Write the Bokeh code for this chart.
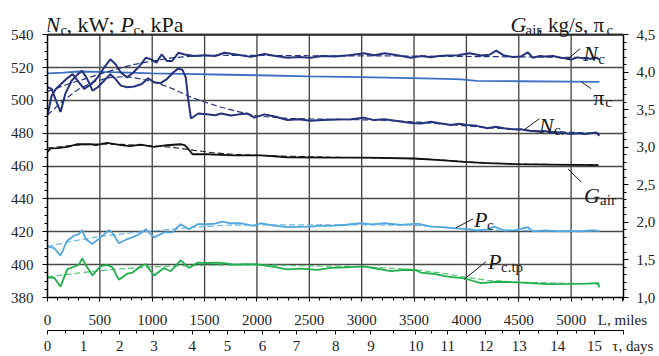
from bokeh.plotting import figure
from bokeh.models import Range1d, LinearAxis, FixedTicker, Label, CustomJSTickFormatter, Span
from bokeh.embed import file_html
from bokeh.resources import INLINE

# ---------------- data (L in miles) ----------------
nc1_L = [0, 40, 80, 130, 180, 240, 300, 350, 420, 480, 540, 600, 650, 700, 760, 820, 880, 940, 990,
         1040, 1090, 1140, 1190, 1250, 1310, 1400, 1500, 1600, 1690, 1800, 1940, 2070, 2180, 2290,
         2400, 2510, 2620, 2740, 2880, 3020, 3120, 3220, 3340, 3470, 3570, 3660, 3740, 3820, 3920,
         4030, 4140, 4220, 4285, 4360, 4440, 4520, 4585, 4635, 4700, 4750, 4830, 4900, 4960, 5000,
         5060, 5130, 5190, 5240, 5270]
nc1_v = [491, 503, 507, 510, 513, 516, 511, 507, 510, 514, 520, 525, 522, 517, 514, 517, 521, 526, 525,
         523, 528, 524, 524, 529, 528, 527, 527.5, 527, 529, 528, 526.5, 528.3, 527, 526,
         526.5, 526, 527, 526.7, 527.5, 528.7, 527.5, 528.7, 527.5, 526, 527, 526.3, 527, 527.3, 527.5,
         528.7, 527.3, 527.8, 530.3, 527.3, 526.5, 526.7, 529.3, 526, 527, 526.7, 527, 526, 525.5, 524.8,
         526.2, 525.5, 525.3, 526, 525]
nc1_trend_L = [0, 200, 400, 600, 800, 1000, 1200, 1400, 1650, 2500, 3500, 4500, 5270]
nc1_trend_v = [505.5, 510, 514, 518, 521.5, 524, 526, 527, 527.5, 527.2, 527, 526.5, 526]

nc2_L = [0, 40, 80, 125, 170, 230, 290, 330, 380, 430, 480, 540, 600, 650, 700, 760, 830, 900, 960,
         1020, 1080, 1140, 1200, 1250, 1290, 1320, 1345, 1370, 1440, 1520, 1600, 1660, 1750, 1830,
         1910, 1975, 2070, 2180, 2290, 2400, 2510, 2630, 2770, 2900, 3020, 3120, 3215, 3340, 3470,
         3570, 3660, 3760, 3850, 3930, 4010, 4100, 4200, 4280, 4360, 4440, 4520, 4600, 4680, 4750,
         4810, 4900, 5000, 5060, 5130, 5190, 5240, 5270]
nc2_v = [508, 507, 500, 493, 504, 512, 516, 518, 513, 506, 508, 512, 516, 513, 509, 508, 508.5, 510, 513.5,
         511, 510.5, 513, 517, 519.5, 518.5, 514, 500, 489, 492, 491.5, 491, 492, 490.8, 491.5,
         492, 489.5, 491.5, 490, 488, 488.5, 487.6, 488, 488.4, 488.5, 489.5, 488, 488.5, 487.5, 486.2,
         486, 487, 486, 485, 485.8, 485, 484.5, 483, 484, 483, 482.5, 482.4, 481.5, 481, 481.3,
         480.4, 480.5, 479.6, 480, 479.6, 480, 480.4, 478.5]
nc2_trend_L = [0, 150, 300, 450, 600, 750, 900, 1050, 1200, 1350, 1500, 1650, 1800, 2000, 2300, 2700,
               3200, 3600, 4000, 4400, 4800, 5270]
nc2_trend_v = [491, 500, 507, 511.5, 514, 514.5, 513, 510.5, 507, 502.5, 499, 496, 493.5, 490.5, 489,
               488.5, 488, 486.5, 484.5, 482.5, 481, 480]

pi_L = [0, 150, 300, 500, 700, 1000, 1300, 1600, 2000, 2500, 3000, 3470, 3800, 3950, 4100, 4500, 5000, 5270]
pi_v = [3.986, 3.995, 4.01, 4.005, 3.998, 3.985, 3.978, 3.97, 3.96, 3.944, 3.935, 3.922, 3.913, 3.905,
        3.885, 3.88, 3.875, 3.872]

g_L = [0, 30, 100, 190, 280, 410, 460, 570, 700, 790, 890, 1015, 1140, 1270, 1310, 1350, 1385, 1520,
       1780, 2040, 2290, 2700, 3020, 3500, 3750, 3980, 4200, 4460, 4800, 5260]
g_v = [2.94, 2.985, 2.99, 3.006, 3.041, 3.043, 3.028, 3.058, 3.03, 3.015, 3.037, 3.006, 3.028, 3.041,
       3.03, 2.97, 2.908, 2.908, 2.894, 2.894, 2.868, 2.862, 2.864, 2.851, 2.83, 2.807, 2.79, 2.776,
       2.77, 2.763]
g_trend_L = [0, 200, 450, 700, 1000, 1200, 1400, 1600, 1800, 2200, 2700, 3200, 3600, 3900, 4100, 4500, 5260]
g_trend_v = [2.99, 3.02, 3.045, 3.04, 3.02, 3.0, 2.96, 2.925, 2.905, 2.885, 2.868, 2.858, 2.845, 2.818,
             2.795, 2.777, 2.765]

pc_L = [0, 64, 124, 188, 252, 300, 332, 364, 428, 507, 586, 618, 682, 762, 810, 889, 937, 1017, 1112,
        1192, 1272, 1351, 1431, 1526, 1600, 1670, 1750, 1845, 1973, 2036, 2160, 2291, 2400, 2514, 2610,
        2705, 2850, 2992, 3100, 3215, 3375, 3534, 3662, 3760, 3853, 3980, 4108, 4200, 4267, 4362, 4470,
        4586, 4634, 4750, 4904, 5000, 5096, 5170, 5239, 5270]
pc_v = [411.1, 410.1, 405.5, 414.6, 417.6, 418.6, 421.0, 415.6, 412.6, 416.6, 421.0, 419.6, 413.0, 415.6,
        416.6, 419.0, 421.6, 416.6, 419.6, 419.6, 424.6, 421.6, 424.6, 424.6, 425.0, 426.2, 425.2, 425.2,
        423.6, 425.2, 423.8, 422.8, 423.0, 423.2, 423.8, 423.6, 424.3, 425.2, 424.5, 425.2, 424.2, 425.0,
        423.2, 422.8, 422.2, 421.8, 420.8, 421.5, 423.2, 420.8, 421.0, 422.8, 420.2, 420.8, 420.2, 420.6,
        420.2, 420.8, 420.8, 420.2]
pc_trend_L = [0, 250, 500, 750, 1000, 1250, 1500, 1700, 2000, 3000, 3500, 3800, 4100, 4500, 5270]
pc_trend_v = [411, 414.5, 417.2, 419, 420.5, 422, 423.2, 424, 424.2, 424.2, 424, 422.8, 421.2, 420.8, 420.5]

pt_L = [0, 64, 124, 188, 252, 300, 332, 364, 428, 507, 571, 618, 682, 762, 810, 889, 937, 1017, 1112,
        1176, 1272, 1351, 1431, 1526, 1622, 1700, 1781, 1900, 2005, 2150, 2291, 2418, 2578, 2705, 2850,
        3024, 3150, 3279, 3420, 3518, 3566, 3700, 3821, 3980, 4060, 4140, 4300, 4490, 4650, 4777, 5000,
        5150, 5255, 5270]
pt_v = [392.3, 392.0, 386.6, 397.1, 398.7, 400.0, 403.8, 400.0, 393.5, 399.1, 399.8, 398.5, 390.8, 394.5,
        395.1, 399.0, 400.4, 393.4, 398.0, 396.0, 402.6, 398.0, 401.2, 401.0, 401.2, 400.8, 400.0, 400.3,
        400.2, 398.8, 397.1, 397.6, 396.8, 398.0, 398.4, 399.0, 397.5, 396.1, 396.9, 396.6, 395.1, 394.3,
        392.7, 391.6, 390.2, 388.8, 389.6, 389.2, 388.6, 388.2, 388.3, 388.5, 388.8, 386.2]
pt_trend_L = [0, 300, 600, 900, 1200, 1500, 2000, 2500, 3000, 3500, 3800, 4000, 4200, 4500, 5000, 5270]
pt_trend_v = [392.5, 395, 397, 398.3, 399.2, 399.6, 399.8, 399.3, 398.8, 397, 394.5, 392.3, 390.5, 389.3,
              388.6, 388.3]

# axes
L_ticks = list(range(0, 5001, 500))
L_minor = list(range(0, 5501, 100))
L_name_pos = 5490
L_name = "L, miles"
left_ticks = list(range(380, 541, 20))
left_minor = list(range(380, 541, 5))
right_ticks = [1.0, 1.5, 2.0, 2.5, 3.0, 3.5, 4.0, 4.5]
right_minor = [round(1.0 + 0.1 * i, 1) for i in range(36)]
tau_days = list(range(16))
tau_miles = [0, 344, 689, 1016, 1383, 1718, 2052, 2377, 2753, 3088, 3518, 3821, 4187, 4505, 4872, 5222]
tau_name_pos = 5500
tau_name = "\u00a0" * 5 + "\u03c4, days"

Y_LO, Y_HI, Y_TOP = 380, 540, 559          # extra band above the plot holds the axis titles
R_LO, R_HI = 1.0, 4.5
R_TOP = R_LO + (R_HI - R_LO) * (Y_TOP - Y_LO) / (Y_HI - Y_LO)

# ---------------- figure ----------------
p = figure(width=659, height=356, output_backend="svg", toolbar_location=None,
           x_range=Range1d(0, 5500), y_range=Range1d(Y_LO, Y_TOP),
           min_border_left=47, min_border_right=36, min_border_top=3, min_border_bottom=58)
p.extra_y_ranges = {"r": Range1d(R_LO, R_TOP)}
p.background_fill_color = "white"
p.border_fill_color = "white"
p.outline_line_color = None

FONT = "Liberation Serif"

def style_axis(ax, tick_out=5, standoff=8):
    ax.axis_line_color = "black"
    ax.axis_line_width = 1.5
    ax.major_tick_line_color = "black"
    ax.minor_tick_line_color = "black"
    ax.major_tick_in = 0
    ax.major_tick_out = tick_out
    ax.minor_tick_in = 0
    ax.minor_tick_out = 3
    ax.major_label_text_font = FONT
    ax.major_label_text_font_size = "15px"
    ax.major_label_text_color = "#222222"
    ax.major_label_standoff = standoff

xax = p.xaxis[0]
xax.ticker = FixedTicker(ticks=L_ticks + [L_name_pos], minor_ticks=L_minor)
xax.formatter = CustomJSTickFormatter(args=dict(npos=L_name_pos, name=L_name),
                                      code="return tick == npos ? name : tick.toString();")
style_axis(xax, tick_out=4, standoff=10)

yax = p.yaxis[0]
yax.ticker = FixedTicker(ticks=left_ticks, minor_ticks=left_minor)
yax.bounds = (Y_LO, Y_HI)
style_axis(yax, tick_out=5, standoff=9)

rax = LinearAxis(y_range_name="r", ticker=FixedTicker(ticks=right_ticks, minor_ticks=right_minor),
                 formatter=CustomJSTickFormatter(code="return tick.toFixed(1).replace('.', ',');"),
                 bounds=(R_LO, R_HI))
style_axis(rax, tick_out=5, standoff=8)
p.add_layout(rax, "right")

tau_minor = [(a + b) / 2 for a, b in zip(tau_miles[:-1], tau_miles[1:])]
tau_pos = tau_miles + [tau_name_pos]
tau_lab = [str(d) for d in tau_days] + [tau_name]
tax = LinearAxis(ticker=FixedTicker(ticks=tau_pos, minor_ticks=tau_minor),
                 formatter=CustomJSTickFormatter(args=dict(pos=tau_pos, lab=tau_lab),
                                                 code="const i = pos.indexOf(tick); return i >= 0 ? lab[i] : '';"))
style_axis(tax, tick_out=4, standoff=3)
tax.axis_line_width = 1.2
p.add_layout(tax, "below")

# grid: horizontal from the left ticks, vertical drawn only over the plotting band
p.xgrid.visible = False
p.ygrid.ticker = FixedTicker(ticks=left_ticks)
p.ygrid.grid_line_color = "#4a4a4a"
p.ygrid.grid_line_width = 1.3
vg = L_ticks[1:]
p.segment(vg, [Y_LO] * len(vg), vg, [Y_HI] * len(vg), color="#404040", line_width=1.3, level="underlay")
p.add_layout(Span(location=Y_HI, dimension="width", line_color="#2a2a2a", line_width=2))

# ---------------- series ----------------
NAVY = "#25327c"
PI_BLUE = "#3d6fc0"
PC_BLUE = "#52a7dd"
GREEN = "#1fb04c"

p.line(g_trend_L, g_trend_v, y_range_name="r", color="#222222", line_width=1.1, line_dash="6 3")
p.line(g_L, g_v, y_range_name="r", color="#111111", line_width=1.8)
p.line(pi_L, pi_v, y_range_name="r", color=PI_BLUE, line_width=1.8)

p.line(pc_trend_L, pc_trend_v, color="#6db8e6", line_width=1.2, line_dash="6 3")
p.line(pc_L, pc_v, color=PC_BLUE, line_width=1.8)
p.line(pt_trend_L, pt_trend_v, color="#52c470", line_width=1.2, line_dash="6 3")
p.line(pt_L, pt_v, color=GREEN, line_width=1.8)

p.line(nc1_trend_L, nc1_trend_v, color=NAVY, line_width=1.2, line_dash="6 3")
p.line(nc2_trend_L, nc2_trend_v, color=NAVY, line_width=1.2, line_dash="6 3")
p.line(nc1_L, nc1_v, color=NAVY, line_width=2)
p.line(nc2_L, nc2_v, color=NAVY, line_width=2)

# ---------------- annotations ----------------
def txt(x, y, s, dx=0, dy=0, size="22px", style="italic", align="left"):
    p.add_layout(Label(x=x, y=y, x_offset=dx, y_offset=dy, text=s, text_font=FONT,
                       text_font_size=size, text_font_style=style, text_color="#1a1a1a",
                       text_baseline="alphabetic", text_align=align))

def label_sub(x, y, main, sub, w_main, main_style="italic"):
    txt(x, y, main, style=main_style)
    txt(x, y, sub, dx=w_main, dy=-5, size="15px", style="normal")

lead_x0 = [4962, 5102, 4554, 4971, 3900, 3977]
lead_y0 = [524.8, 511.1, 482.2, 458.2, 422.4, 391.0]
lead_x1 = [5086, 5191, 4697, 5096, 4063, 4187]
lead_y1 = [531.5, 507.1, 488.9, 450.3, 427.9, 401.8]
p.segment(lead_x0, lead_y0, lead_x1, lead_y1, color="#1a1a1a", line_width=1)

label_sub(5115, 528.5, "N", "c", 15)
label_sub(5210, 501.8, "\u03c0", "c", 12, main_style="normal")
label_sub(4694, 484.8, "N", "c.", 15)
label_sub(5124, 442.4, "G", "air", 16)
label_sub(4073, 427.3, "P", "c", 13)
label_sub(4206, 401.8, "P", "c.tp", 13)

# left axis title
txt(0, Y_HI, "N", dx=-2, dy=10)
txt(0, Y_HI, "c", dx=13, dy=5, size="15px", style="normal")
txt(0, Y_HI, ", kW; ", dx=19, dy=10, style="normal")
txt(0, Y_HI, "P", dx=73, dy=10)
txt(0, Y_HI, "c", dx=86, dy=5, size="15px", style="normal")
txt(0, Y_HI, ", kPa", dx=92, dy=10, style="normal")

# right axis title
txt(5500, Y_HI, "G", dx=-113, dy=10)
txt(5500, Y_HI, "air", dx=-98, dy=5, size="15px", style="normal")
txt(5500, Y_HI, ", kg/s, \u03c0", dx=-86, dy=10, size="21px", style="normal")
txt(5500, Y_HI, "c", dx=-17, dy=5, size="15px", style="normal")

open("out.html", "w").write(file_html(p, INLINE))
